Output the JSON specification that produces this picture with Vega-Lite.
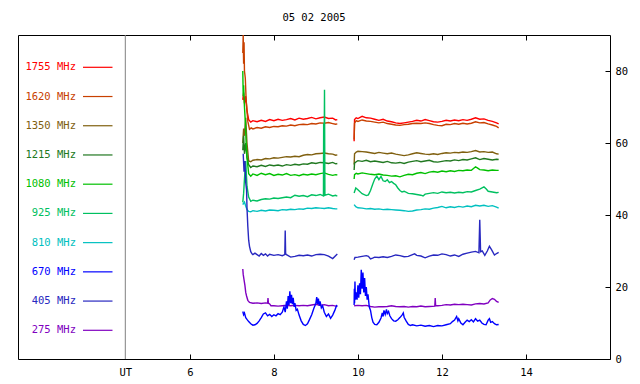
{
"$schema":"https://vega.github.io/schema/vega-lite/v6.json",
"autosize":{"type":"none"},
"padding":{"left":18,"top":35,"right":30,"bottom":25},
"width":592,"height":324,
"background":"white",
"title":{"text":"05 02 2005","font":"DejaVu Sans Mono","fontSize":10.5,"fontWeight":"normal","color":"#000","anchor":"middle","baseline":"alphabetic","offset":1},
"config":{"view":{"stroke":"#000","strokeWidth":1},"font":"DejaVu Sans Mono"},
"datasets":{
"one":[{"u":"UT"}],
"leg":[{"f":"1755","label":"1755 MHz"},{"f":"1620","label":"1620 MHz"},{"f":"1350","label":"1350 MHz"},{"f":"1215","label":"1215 MHz"},{"f":"1080","label":"1080 MHz"},{"f":"925","label":"925 MHz"},{"f":"810","label":"810 MHz"},{"f":"670","label":"670 MHz"},{"f":"405","label":"405 MHz"},{"f":"275","label":"275 MHz"}],
"rad":[
{"f":"1755","s":1,"t":7.26,"v":72},{"f":"1755","s":1,"t":7.28,"v":74},{"f":"1755","s":1,"t":7.30,"v":71},{"f":"1755","s":1,"t":7.33,"v":73},{"f":"1755","s":1,"t":7.36,"v":69},{"f":"1755","s":1,"t":7.40,"v":66.5},{"f":"1755","s":1,"t":7.45,"v":65.8},{"f":"1755","s":1,"t":7.5,"v":66.2},{"f":"1755","s":1,"t":7.6,"v":65.9},{"f":"1755","s":1,"t":7.7,"v":66.3},{"f":"1755","s":1,"t":7.8,"v":66.0},{"f":"1755","s":1,"t":7.9,"v":66.5},{"f":"1755","s":1,"t":8.0,"v":66.2},{"f":"1755","s":1,"t":8.1,"v":66.6},{"f":"1755","s":1,"t":8.2,"v":66.3},{"f":"1755","s":1,"t":8.3,"v":66.5},{"f":"1755","s":1,"t":8.4,"v":66.8},{"f":"1755","s":1,"t":8.5,"v":66.4},{"f":"1755","s":1,"t":8.6,"v":66.9},{"f":"1755","s":1,"t":8.7,"v":66.6},{"f":"1755","s":1,"t":8.8,"v":66.8},{"f":"1755","s":1,"t":8.9,"v":67.1},{"f":"1755","s":1,"t":9.0,"v":66.7},{"f":"1755","s":1,"t":9.1,"v":67.0},{"f":"1755","s":1,"t":9.2,"v":67.2},{"f":"1755","s":1,"t":9.3,"v":66.8},{"f":"1755","s":1,"t":9.4,"v":66.9},{"f":"1755","s":1,"t":9.47,"v":66.4},{"f":"1755","s":1,"t":9.51,"v":66.5},
{"f":"1755","s":2,"t":9.91,"v":60.5},{"f":"1755","s":2,"t":9.92,"v":66.5},{"f":"1755","s":2,"t":9.96,"v":67.0},{"f":"1755","s":2,"t":10.0,"v":66.8},{"f":"1755","s":2,"t":10.1,"v":67.4},{"f":"1755","s":2,"t":10.2,"v":67.0},{"f":"1755","s":2,"t":10.3,"v":66.9},{"f":"1755","s":2,"t":10.4,"v":66.6},{"f":"1755","s":2,"t":10.5,"v":66.3},{"f":"1755","s":2,"t":10.6,"v":66.6},{"f":"1755","s":2,"t":10.7,"v":66.1},{"f":"1755","s":2,"t":10.8,"v":65.9},{"f":"1755","s":2,"t":10.9,"v":65.6},{"f":"1755","s":2,"t":11.0,"v":65.4},{"f":"1755","s":2,"t":11.1,"v":65.6},{"f":"1755","s":2,"t":11.2,"v":65.8},{"f":"1755","s":2,"t":11.3,"v":66.0},{"f":"1755","s":2,"t":11.4,"v":66.3},{"f":"1755","s":2,"t":11.5,"v":66.1},{"f":"1755","s":2,"t":11.6,"v":66.5},{"f":"1755","s":2,"t":11.7,"v":66.2},{"f":"1755","s":2,"t":11.8,"v":65.9},{"f":"1755","s":2,"t":11.9,"v":65.8},{"f":"1755","s":2,"t":12.0,"v":66.0},{"f":"1755","s":2,"t":12.1,"v":66.3},{"f":"1755","s":2,"t":12.2,"v":66.1},{"f":"1755","s":2,"t":12.3,"v":66.4},{"f":"1755","s":2,"t":12.4,"v":66.2},{"f":"1755","s":2,"t":12.5,"v":66.5},{"f":"1755","s":2,"t":12.6,"v":66.3},{"f":"1755","s":2,"t":12.7,"v":66.6},{"f":"1755","s":2,"t":12.8,"v":67.0},{"f":"1755","s":2,"t":12.9,"v":66.6},{"f":"1755","s":2,"t":13.0,"v":66.7},{"f":"1755","s":2,"t":13.1,"v":66.3},{"f":"1755","s":2,"t":13.2,"v":66.0},{"f":"1755","s":2,"t":13.3,"v":65.6},{"f":"1755","s":2,"t":13.35,"v":65.3},
{"f":"1620","s":1,"t":7.26,"v":85},{"f":"1620","s":1,"t":7.27,"v":90},{"f":"1620","s":1,"t":7.28,"v":82},{"f":"1620","s":1,"t":7.29,"v":88},{"f":"1620","s":1,"t":7.30,"v":80},{"f":"1620","s":1,"t":7.32,"v":78},{"f":"1620","s":1,"t":7.34,"v":72},{"f":"1620","s":1,"t":7.36,"v":69},{"f":"1620","s":1,"t":7.38,"v":66},{"f":"1620","s":1,"t":7.42,"v":63.8},{"f":"1620","s":1,"t":7.46,"v":64.2},{"f":"1620","s":1,"t":7.5,"v":63.9},{"f":"1620","s":1,"t":7.6,"v":64.3},{"f":"1620","s":1,"t":7.7,"v":64.1},{"f":"1620","s":1,"t":7.8,"v":64.5},{"f":"1620","s":1,"t":7.9,"v":64.3},{"f":"1620","s":1,"t":8.0,"v":64.6},{"f":"1620","s":1,"t":8.1,"v":64.5},{"f":"1620","s":1,"t":8.2,"v":64.8},{"f":"1620","s":1,"t":8.3,"v":64.7},{"f":"1620","s":1,"t":8.4,"v":65.0},{"f":"1620","s":1,"t":8.5,"v":64.8},{"f":"1620","s":1,"t":8.6,"v":65.1},{"f":"1620","s":1,"t":8.7,"v":65.2},{"f":"1620","s":1,"t":8.8,"v":65.1},{"f":"1620","s":1,"t":8.9,"v":65.4},{"f":"1620","s":1,"t":9.0,"v":65.3},{"f":"1620","s":1,"t":9.1,"v":65.6},{"f":"1620","s":1,"t":9.2,"v":65.5},{"f":"1620","s":1,"t":9.3,"v":65.7},{"f":"1620","s":1,"t":9.4,"v":65.4},{"f":"1620","s":1,"t":9.47,"v":65.2},{"f":"1620","s":1,"t":9.51,"v":65.3},
{"f":"1620","s":2,"t":9.91,"v":61},{"f":"1620","s":2,"t":9.92,"v":65.5},{"f":"1620","s":2,"t":9.96,"v":66.2},{"f":"1620","s":2,"t":10.0,"v":66.0},{"f":"1620","s":2,"t":10.1,"v":66.4},{"f":"1620","s":2,"t":10.2,"v":66.1},{"f":"1620","s":2,"t":10.3,"v":66.0},{"f":"1620","s":2,"t":10.4,"v":65.8},{"f":"1620","s":2,"t":10.5,"v":65.6},{"f":"1620","s":2,"t":10.6,"v":65.8},{"f":"1620","s":2,"t":10.7,"v":65.4},{"f":"1620","s":2,"t":10.8,"v":65.2},{"f":"1620","s":2,"t":10.9,"v":65.0},{"f":"1620","s":2,"t":11.0,"v":64.9},{"f":"1620","s":2,"t":11.1,"v":65.1},{"f":"1620","s":2,"t":11.2,"v":65.2},{"f":"1620","s":2,"t":11.3,"v":65.4},{"f":"1620","s":2,"t":11.4,"v":65.5},{"f":"1620","s":2,"t":11.5,"v":65.4},{"f":"1620","s":2,"t":11.6,"v":65.6},{"f":"1620","s":2,"t":11.7,"v":65.4},{"f":"1620","s":2,"t":11.8,"v":65.1},{"f":"1620","s":2,"t":11.9,"v":64.9},{"f":"1620","s":2,"t":12.0,"v":64.8},{"f":"1620","s":2,"t":12.1,"v":65.2},{"f":"1620","s":2,"t":12.2,"v":65.1},{"f":"1620","s":2,"t":12.3,"v":65.4},{"f":"1620","s":2,"t":12.4,"v":65.2},{"f":"1620","s":2,"t":12.5,"v":65.5},{"f":"1620","s":2,"t":12.6,"v":65.3},{"f":"1620","s":2,"t":12.7,"v":65.5},{"f":"1620","s":2,"t":12.8,"v":65.9},{"f":"1620","s":2,"t":12.9,"v":65.6},{"f":"1620","s":2,"t":13.0,"v":65.7},{"f":"1620","s":2,"t":13.1,"v":65.3},{"f":"1620","s":2,"t":13.2,"v":65.0},{"f":"1620","s":2,"t":13.3,"v":64.6},{"f":"1620","s":2,"t":13.35,"v":64.2},
{"f":"1350","s":1,"t":7.26,"v":60},{"f":"1350","s":1,"t":7.28,"v":64},{"f":"1350","s":1,"t":7.30,"v":62},{"f":"1350","s":1,"t":7.33,"v":67},{"f":"1350","s":1,"t":7.36,"v":60},{"f":"1350","s":1,"t":7.40,"v":55},{"f":"1350","s":1,"t":7.45,"v":54.8},{"f":"1350","s":1,"t":7.5,"v":55.2},{"f":"1350","s":1,"t":7.6,"v":55.4},{"f":"1350","s":1,"t":7.7,"v":55.3},{"f":"1350","s":1,"t":7.8,"v":55.7},{"f":"1350","s":1,"t":7.9,"v":55.6},{"f":"1350","s":1,"t":8.0,"v":55.9},{"f":"1350","s":1,"t":8.1,"v":55.8},{"f":"1350","s":1,"t":8.2,"v":56.0},{"f":"1350","s":1,"t":8.3,"v":56.2},{"f":"1350","s":1,"t":8.4,"v":56.1},{"f":"1350","s":1,"t":8.5,"v":56.3},{"f":"1350","s":1,"t":8.6,"v":56.2},{"f":"1350","s":1,"t":8.7,"v":56.6},{"f":"1350","s":1,"t":8.8,"v":56.8},{"f":"1350","s":1,"t":8.9,"v":56.7},{"f":"1350","s":1,"t":9.0,"v":57.0},{"f":"1350","s":1,"t":9.1,"v":57.1},{"f":"1350","s":1,"t":9.2,"v":57.2},{"f":"1350","s":1,"t":9.3,"v":57.0},{"f":"1350","s":1,"t":9.4,"v":56.9},{"f":"1350","s":1,"t":9.47,"v":56.6},{"f":"1350","s":1,"t":9.51,"v":56.7},
{"f":"1350","s":2,"t":9.91,"v":54},{"f":"1350","s":2,"t":9.92,"v":57.0},{"f":"1350","s":2,"t":9.96,"v":57.5},{"f":"1350","s":2,"t":10.0,"v":57.7},{"f":"1350","s":2,"t":10.1,"v":57.6},{"f":"1350","s":2,"t":10.2,"v":57.5},{"f":"1350","s":2,"t":10.3,"v":57.3},{"f":"1350","s":2,"t":10.4,"v":57.1},{"f":"1350","s":2,"t":10.5,"v":57.4},{"f":"1350","s":2,"t":10.6,"v":57.2},{"f":"1350","s":2,"t":10.7,"v":57.0},{"f":"1350","s":2,"t":10.8,"v":57.2},{"f":"1350","s":2,"t":10.9,"v":56.9},{"f":"1350","s":2,"t":11.0,"v":56.7},{"f":"1350","s":2,"t":11.1,"v":56.5},{"f":"1350","s":2,"t":11.2,"v":56.7},{"f":"1350","s":2,"t":11.3,"v":57.0},{"f":"1350","s":2,"t":11.4,"v":57.3},{"f":"1350","s":2,"t":11.5,"v":57.1},{"f":"1350","s":2,"t":11.6,"v":56.9},{"f":"1350","s":2,"t":11.7,"v":56.8},{"f":"1350","s":2,"t":11.8,"v":57.0},{"f":"1350","s":2,"t":11.9,"v":56.8},{"f":"1350","s":2,"t":12.0,"v":57.1},{"f":"1350","s":2,"t":12.1,"v":57.3},{"f":"1350","s":2,"t":12.2,"v":57.2},{"f":"1350","s":2,"t":12.3,"v":57.4},{"f":"1350","s":2,"t":12.4,"v":57.3},{"f":"1350","s":2,"t":12.5,"v":57.5},{"f":"1350","s":2,"t":12.6,"v":57.4},{"f":"1350","s":2,"t":12.7,"v":57.6},{"f":"1350","s":2,"t":12.8,"v":57.9},{"f":"1350","s":2,"t":12.9,"v":57.5},{"f":"1350","s":2,"t":13.0,"v":57.6},{"f":"1350","s":2,"t":13.1,"v":57.4},{"f":"1350","s":2,"t":13.2,"v":57.5},{"f":"1350","s":2,"t":13.3,"v":57.0},{"f":"1350","s":2,"t":13.35,"v":56.9},
{"f":"1215","s":1,"t":7.26,"v":58},{"f":"1215","s":1,"t":7.28,"v":62},{"f":"1215","s":1,"t":7.30,"v":57},{"f":"1215","s":1,"t":7.33,"v":60},{"f":"1215","s":1,"t":7.36,"v":56},{"f":"1215","s":1,"t":7.40,"v":54},{"f":"1215","s":1,"t":7.45,"v":53.2},{"f":"1215","s":1,"t":7.5,"v":53.6},{"f":"1215","s":1,"t":7.6,"v":53.4},{"f":"1215","s":1,"t":7.7,"v":53.8},{"f":"1215","s":1,"t":7.8,"v":53.5},{"f":"1215","s":1,"t":7.9,"v":53.9},{"f":"1215","s":1,"t":8.0,"v":53.7},{"f":"1215","s":1,"t":8.1,"v":53.9},{"f":"1215","s":1,"t":8.2,"v":53.6},{"f":"1215","s":1,"t":8.3,"v":54.0},{"f":"1215","s":1,"t":8.4,"v":53.8},{"f":"1215","s":1,"t":8.5,"v":54.1},{"f":"1215","s":1,"t":8.6,"v":53.9},{"f":"1215","s":1,"t":8.7,"v":54.2},{"f":"1215","s":1,"t":8.8,"v":54.1},{"f":"1215","s":1,"t":8.9,"v":54.5},{"f":"1215","s":1,"t":9.0,"v":54.3},{"f":"1215","s":1,"t":9.1,"v":54.6},{"f":"1215","s":1,"t":9.2,"v":54.5},{"f":"1215","s":1,"t":9.3,"v":54.3},{"f":"1215","s":1,"t":9.4,"v":54.6},{"f":"1215","s":1,"t":9.47,"v":54.2},{"f":"1215","s":1,"t":9.51,"v":54.3},
{"f":"1215","s":2,"t":9.91,"v":52.5},{"f":"1215","s":2,"t":9.92,"v":54.4},{"f":"1215","s":2,"t":9.96,"v":54.8},{"f":"1215","s":2,"t":10.0,"v":55.1},{"f":"1215","s":2,"t":10.1,"v":54.9},{"f":"1215","s":2,"t":10.2,"v":55.2},{"f":"1215","s":2,"t":10.3,"v":54.8},{"f":"1215","s":2,"t":10.4,"v":55.0},{"f":"1215","s":2,"t":10.5,"v":54.8},{"f":"1215","s":2,"t":10.6,"v":54.6},{"f":"1215","s":2,"t":10.7,"v":54.9},{"f":"1215","s":2,"t":10.8,"v":54.5},{"f":"1215","s":2,"t":10.9,"v":54.4},{"f":"1215","s":2,"t":11.0,"v":54.6},{"f":"1215","s":2,"t":11.1,"v":54.3},{"f":"1215","s":2,"t":11.2,"v":54.7},{"f":"1215","s":2,"t":11.3,"v":54.9},{"f":"1215","s":2,"t":11.4,"v":55.1},{"f":"1215","s":2,"t":11.5,"v":54.8},{"f":"1215","s":2,"t":11.6,"v":55.0},{"f":"1215","s":2,"t":11.7,"v":55.2},{"f":"1215","s":2,"t":11.8,"v":54.8},{"f":"1215","s":2,"t":11.9,"v":54.7},{"f":"1215","s":2,"t":12.0,"v":54.9},{"f":"1215","s":2,"t":12.1,"v":55.1},{"f":"1215","s":2,"t":12.2,"v":55.0},{"f":"1215","s":2,"t":12.3,"v":55.3},{"f":"1215","s":2,"t":12.4,"v":55.1},{"f":"1215","s":2,"t":12.5,"v":55.4},{"f":"1215","s":2,"t":12.6,"v":55.3},{"f":"1215","s":2,"t":12.7,"v":55.6},{"f":"1215","s":2,"t":12.8,"v":55.9},{"f":"1215","s":2,"t":12.9,"v":55.4},{"f":"1215","s":2,"t":13.0,"v":55.7},{"f":"1215","s":2,"t":13.1,"v":55.5},{"f":"1215","s":2,"t":13.2,"v":55.3},{"f":"1215","s":2,"t":13.3,"v":55.5},{"f":"1215","s":2,"t":13.35,"v":55.4},
{"f":"1080","s":1,"t":7.26,"v":80},{"f":"1080","s":1,"t":7.27,"v":73},{"f":"1080","s":1,"t":7.28,"v":76},{"f":"1080","s":1,"t":7.30,"v":70},{"f":"1080","s":1,"t":7.32,"v":66},{"f":"1080","s":1,"t":7.34,"v":60},{"f":"1080","s":1,"t":7.36,"v":56},{"f":"1080","s":1,"t":7.40,"v":51.5},{"f":"1080","s":1,"t":7.45,"v":50.8},{"f":"1080","s":1,"t":7.5,"v":51.4},{"f":"1080","s":1,"t":7.6,"v":51.0},{"f":"1080","s":1,"t":7.7,"v":51.6},{"f":"1080","s":1,"t":7.8,"v":51.2},{"f":"1080","s":1,"t":7.9,"v":51.5},{"f":"1080","s":1,"t":8.0,"v":51.0},{"f":"1080","s":1,"t":8.1,"v":51.3},{"f":"1080","s":1,"t":8.2,"v":51.1},{"f":"1080","s":1,"t":8.3,"v":51.5},{"f":"1080","s":1,"t":8.4,"v":51.0},{"f":"1080","s":1,"t":8.5,"v":51.2},{"f":"1080","s":1,"t":8.6,"v":50.9},{"f":"1080","s":1,"t":8.7,"v":51.3},{"f":"1080","s":1,"t":8.8,"v":51.1},{"f":"1080","s":1,"t":8.9,"v":51.4},{"f":"1080","s":1,"t":9.0,"v":51.2},{"f":"1080","s":1,"t":9.1,"v":51.5},{"f":"1080","s":1,"t":9.2,"v":51.7},{"f":"1080","s":1,"t":9.3,"v":51.3},{"f":"1080","s":1,"t":9.4,"v":51.0},{"f":"1080","s":1,"t":9.47,"v":51.2},{"f":"1080","s":1,"t":9.51,"v":51.1},
{"f":"1080","s":2,"t":9.91,"v":50.0},{"f":"1080","s":2,"t":9.92,"v":51.2},{"f":"1080","s":2,"t":9.96,"v":51.6},{"f":"1080","s":2,"t":10.0,"v":51.4},{"f":"1080","s":2,"t":10.1,"v":51.7},{"f":"1080","s":2,"t":10.2,"v":51.5},{"f":"1080","s":2,"t":10.3,"v":51.3},{"f":"1080","s":2,"t":10.4,"v":51.2},{"f":"1080","s":2,"t":10.5,"v":51.4},{"f":"1080","s":2,"t":10.6,"v":51.1},{"f":"1080","s":2,"t":10.7,"v":51.0},{"f":"1080","s":2,"t":10.8,"v":50.8},{"f":"1080","s":2,"t":10.9,"v":50.9},{"f":"1080","s":2,"t":11.0,"v":50.6},{"f":"1080","s":2,"t":11.1,"v":51.0},{"f":"1080","s":2,"t":11.2,"v":51.3},{"f":"1080","s":2,"t":11.3,"v":51.2},{"f":"1080","s":2,"t":11.4,"v":51.6},{"f":"1080","s":2,"t":11.5,"v":51.8},{"f":"1080","s":2,"t":11.6,"v":51.5},{"f":"1080","s":2,"t":11.7,"v":51.9},{"f":"1080","s":2,"t":11.8,"v":52.1},{"f":"1080","s":2,"t":11.9,"v":51.9},{"f":"1080","s":2,"t":12.0,"v":52.2},{"f":"1080","s":2,"t":12.1,"v":52.0},{"f":"1080","s":2,"t":12.2,"v":52.3},{"f":"1080","s":2,"t":12.3,"v":52.1},{"f":"1080","s":2,"t":12.4,"v":52.4},{"f":"1080","s":2,"t":12.5,"v":52.3},{"f":"1080","s":2,"t":12.6,"v":52.5},{"f":"1080","s":2,"t":12.7,"v":52.4},{"f":"1080","s":2,"t":12.8,"v":53.4},{"f":"1080","s":2,"t":12.85,"v":53.0},{"f":"1080","s":2,"t":12.9,"v":52.6},{"f":"1080","s":2,"t":13.0,"v":52.5},{"f":"1080","s":2,"t":13.1,"v":52.3},{"f":"1080","s":2,"t":13.2,"v":52.5},{"f":"1080","s":2,"t":13.3,"v":52.4},{"f":"1080","s":2,"t":13.35,"v":52.4},
{"f":"925","s":1,"t":7.26,"v":43.5},{"f":"925","s":1,"t":7.28,"v":46},{"f":"925","s":1,"t":7.30,"v":50},{"f":"925","s":1,"t":7.33,"v":55},{"f":"925","s":1,"t":7.36,"v":48},{"f":"925","s":1,"t":7.40,"v":45},{"f":"925","s":1,"t":7.45,"v":43.8},{"f":"925","s":1,"t":7.5,"v":44.1},{"f":"925","s":1,"t":7.6,"v":43.9},{"f":"925","s":1,"t":7.7,"v":44.3},{"f":"925","s":1,"t":7.8,"v":44.5},{"f":"925","s":1,"t":7.9,"v":44.4},{"f":"925","s":1,"t":8.0,"v":44.7},{"f":"925","s":1,"t":8.1,"v":44.6},{"f":"925","s":1,"t":8.2,"v":44.8},{"f":"925","s":1,"t":8.3,"v":45.0},{"f":"925","s":1,"t":8.4,"v":44.8},{"f":"925","s":1,"t":8.5,"v":45.5},{"f":"925","s":1,"t":8.6,"v":45.2},{"f":"925","s":1,"t":8.7,"v":45.4},{"f":"925","s":1,"t":8.8,"v":45.1},{"f":"925","s":1,"t":8.9,"v":45.6},{"f":"925","s":1,"t":9.0,"v":45.4},{"f":"925","s":1,"t":9.1,"v":45.7},{"f":"925","s":1,"t":9.18,"v":45.3},{"f":"925","s":1,"t":9.185,"v":65.5},{"f":"925","s":1,"t":9.19,"v":45.3},{"f":"925","s":1,"t":9.205,"v":74.8},{"f":"925","s":1,"t":9.215,"v":45.5},{"f":"925","s":1,"t":9.3,"v":45.8},{"f":"925","s":1,"t":9.4,"v":45.3},{"f":"925","s":1,"t":9.47,"v":45.5},{"f":"925","s":1,"t":9.51,"v":45.2},
{"f":"925","s":2,"t":9.91,"v":46.1},{"f":"925","s":2,"t":9.95,"v":47.5},{"f":"925","s":2,"t":10.0,"v":47.0},{"f":"925","s":2,"t":10.1,"v":45.9},{"f":"925","s":2,"t":10.2,"v":45.4},{"f":"925","s":2,"t":10.25,"v":45.6},{"f":"925","s":2,"t":10.3,"v":46.8},{"f":"925","s":2,"t":10.35,"v":48.5},{"f":"925","s":2,"t":10.4,"v":50.0},{"f":"925","s":2,"t":10.45,"v":50.8},{"f":"925","s":2,"t":10.5,"v":49.8},{"f":"925","s":2,"t":10.55,"v":50.7},{"f":"925","s":2,"t":10.6,"v":49.5},{"f":"925","s":2,"t":10.65,"v":49.3},{"f":"925","s":2,"t":10.7,"v":49.8},{"f":"925","s":2,"t":10.75,"v":49.0},{"f":"925","s":2,"t":10.8,"v":49.3},{"f":"925","s":2,"t":10.85,"v":48.8},{"f":"925","s":2,"t":10.9,"v":48.4},{"f":"925","s":2,"t":10.95,"v":47.5},{"f":"925","s":2,"t":11.0,"v":46.8},{"f":"925","s":2,"t":11.05,"v":46.4},{"f":"925","s":2,"t":11.1,"v":46.6},{"f":"925","s":2,"t":11.2,"v":46.0},{"f":"925","s":2,"t":11.3,"v":45.9},{"f":"925","s":2,"t":11.4,"v":45.7},{"f":"925","s":2,"t":11.5,"v":45.5},{"f":"925","s":2,"t":11.55,"v":45.3},{"f":"925","s":2,"t":11.6,"v":45.8},{"f":"925","s":2,"t":11.7,"v":46.0},{"f":"925","s":2,"t":11.8,"v":46.2},{"f":"925","s":2,"t":11.9,"v":46.0},{"f":"925","s":2,"t":12.0,"v":46.4},{"f":"925","s":2,"t":12.1,"v":46.2},{"f":"925","s":2,"t":12.2,"v":46.3},{"f":"925","s":2,"t":12.3,"v":46.1},{"f":"925","s":2,"t":12.4,"v":46.3},{"f":"925","s":2,"t":12.5,"v":46.2},{"f":"925","s":2,"t":12.6,"v":46.5},{"f":"925","s":2,"t":12.7,"v":46.4},{"f":"925","s":2,"t":12.8,"v":46.8},{"f":"925","s":2,"t":12.9,"v":47.2},{"f":"925","s":2,"t":13.0,"v":47.8},{"f":"925","s":2,"t":13.05,"v":47.3},{"f":"925","s":2,"t":13.1,"v":46.6},{"f":"925","s":2,"t":13.2,"v":46.4},{"f":"925","s":2,"t":13.3,"v":46.2},{"f":"925","s":2,"t":13.35,"v":46.3},
{"f":"810","s":1,"t":7.26,"v":42.9},{"f":"810","s":1,"t":7.28,"v":43.3},{"f":"810","s":1,"t":7.30,"v":43.6},{"f":"810","s":1,"t":7.33,"v":42.5},{"f":"810","s":1,"t":7.36,"v":41.5},{"f":"810","s":1,"t":7.40,"v":41.0},{"f":"810","s":1,"t":7.45,"v":40.9},{"f":"810","s":1,"t":7.5,"v":41.2},{"f":"810","s":1,"t":7.6,"v":41.0},{"f":"810","s":1,"t":7.7,"v":41.3},{"f":"810","s":1,"t":7.8,"v":41.1},{"f":"810","s":1,"t":7.9,"v":41.4},{"f":"810","s":1,"t":8.0,"v":41.3},{"f":"810","s":1,"t":8.1,"v":41.2},{"f":"810","s":1,"t":8.2,"v":41.5},{"f":"810","s":1,"t":8.3,"v":41.4},{"f":"810","s":1,"t":8.4,"v":41.6},{"f":"810","s":1,"t":8.5,"v":41.5},{"f":"810","s":1,"t":8.6,"v":41.7},{"f":"810","s":1,"t":8.7,"v":41.6},{"f":"810","s":1,"t":8.8,"v":41.9},{"f":"810","s":1,"t":8.9,"v":41.8},{"f":"810","s":1,"t":9.0,"v":42.0},{"f":"810","s":1,"t":9.1,"v":41.9},{"f":"810","s":1,"t":9.2,"v":41.8},{"f":"810","s":1,"t":9.3,"v":42.0},{"f":"810","s":1,"t":9.4,"v":41.8},{"f":"810","s":1,"t":9.47,"v":41.7},{"f":"810","s":1,"t":9.51,"v":41.7},
{"f":"810","s":2,"t":9.91,"v":42.9},{"f":"810","s":2,"t":9.95,"v":42.3},{"f":"810","s":2,"t":10.0,"v":42.0},{"f":"810","s":2,"t":10.1,"v":41.9},{"f":"810","s":2,"t":10.2,"v":41.7},{"f":"810","s":2,"t":10.3,"v":41.8},{"f":"810","s":2,"t":10.4,"v":41.6},{"f":"810","s":2,"t":10.5,"v":41.7},{"f":"810","s":2,"t":10.6,"v":41.5},{"f":"810","s":2,"t":10.7,"v":41.6},{"f":"810","s":2,"t":10.8,"v":41.5},{"f":"810","s":2,"t":10.9,"v":41.4},{"f":"810","s":2,"t":11.0,"v":41.3},{"f":"810","s":2,"t":11.1,"v":41.2},{"f":"810","s":2,"t":11.2,"v":41.0},{"f":"810","s":2,"t":11.3,"v":41.1},{"f":"810","s":2,"t":11.4,"v":41.4},{"f":"810","s":2,"t":11.5,"v":41.5},{"f":"810","s":2,"t":11.6,"v":41.7},{"f":"810","s":2,"t":11.7,"v":41.6},{"f":"810","s":2,"t":11.8,"v":41.9},{"f":"810","s":2,"t":11.9,"v":42.1},{"f":"810","s":2,"t":12.0,"v":42.4},{"f":"810","s":2,"t":12.1,"v":42.0},{"f":"810","s":2,"t":12.2,"v":42.3},{"f":"810","s":2,"t":12.3,"v":42.1},{"f":"810","s":2,"t":12.4,"v":42.4},{"f":"810","s":2,"t":12.5,"v":42.2},{"f":"810","s":2,"t":12.6,"v":42.5},{"f":"810","s":2,"t":12.7,"v":42.3},{"f":"810","s":2,"t":12.8,"v":42.7},{"f":"810","s":2,"t":12.9,"v":42.5},{"f":"810","s":2,"t":13.0,"v":42.7},{"f":"810","s":2,"t":13.1,"v":42.4},{"f":"810","s":2,"t":13.2,"v":42.6},{"f":"810","s":2,"t":13.3,"v":42.2},{"f":"810","s":2,"t":13.35,"v":41.9},
{"f":"405","s":1,"t":7.27,"v":57},{"f":"405","s":1,"t":7.29,"v":52},{"f":"405","s":1,"t":7.31,"v":55},{"f":"405","s":1,"t":7.33,"v":49},{"f":"405","s":1,"t":7.35,"v":47},{"f":"405","s":1,"t":7.36,"v":42},{"f":"405","s":1,"t":7.38,"v":36.8},{"f":"405","s":1,"t":7.40,"v":33},{"f":"405","s":1,"t":7.42,"v":31.3},{"f":"405","s":1,"t":7.45,"v":29.8},{"f":"405","s":1,"t":7.48,"v":29.2},{"f":"405","s":1,"t":7.5,"v":29.0},{"f":"405","s":1,"t":7.55,"v":29.4},{"f":"405","s":1,"t":7.6,"v":29.0},{"f":"405","s":1,"t":7.65,"v":28.6},{"f":"405","s":1,"t":7.7,"v":29.3},{"f":"405","s":1,"t":7.75,"v":28.8},{"f":"405","s":1,"t":7.8,"v":29.2},{"f":"405","s":1,"t":7.85,"v":28.6},{"f":"405","s":1,"t":7.9,"v":29.1},{"f":"405","s":1,"t":8.0,"v":28.8},{"f":"405","s":1,"t":8.1,"v":29.0},{"f":"405","s":1,"t":8.2,"v":28.7},{"f":"405","s":1,"t":8.26,"v":29.0},{"f":"405","s":1,"t":8.27,"v":35.7},{"f":"405","s":1,"t":8.28,"v":29.2},{"f":"405","s":1,"t":8.3,"v":29.0},{"f":"405","s":1,"t":8.4,"v":28.3},{"f":"405","s":1,"t":8.5,"v":28.5},{"f":"405","s":1,"t":8.6,"v":28.8},{"f":"405","s":1,"t":8.7,"v":28.7},{"f":"405","s":1,"t":8.8,"v":28.9},{"f":"405","s":1,"t":8.9,"v":28.6},{"f":"405","s":1,"t":9.0,"v":29.0},{"f":"405","s":1,"t":9.1,"v":29.1},{"f":"405","s":1,"t":9.2,"v":29.0},{"f":"405","s":1,"t":9.3,"v":28.6},{"f":"405","s":1,"t":9.4,"v":27.9},{"f":"405","s":1,"t":9.45,"v":28.5},{"f":"405","s":1,"t":9.51,"v":29.2},
{"f":"405","s":2,"t":9.91,"v":27.6},{"f":"405","s":2,"t":9.93,"v":28.2},{"f":"405","s":2,"t":10.0,"v":28.3},{"f":"405","s":2,"t":10.1,"v":28.5},{"f":"405","s":2,"t":10.2,"v":28.7},{"f":"405","s":2,"t":10.25,"v":28.5},{"f":"405","s":2,"t":10.3,"v":27.8},{"f":"405","s":2,"t":10.35,"v":28.0},{"f":"405","s":2,"t":10.4,"v":28.3},{"f":"405","s":2,"t":10.5,"v":28.2},{"f":"405","s":2,"t":10.6,"v":28.4},{"f":"405","s":2,"t":10.7,"v":28.2},{"f":"405","s":2,"t":10.8,"v":28.5},{"f":"405","s":2,"t":10.9,"v":28.9},{"f":"405","s":2,"t":11.0,"v":28.7},{"f":"405","s":2,"t":11.1,"v":28.4},{"f":"405","s":2,"t":11.2,"v":28.5},{"f":"405","s":2,"t":11.3,"v":29.0},{"f":"405","s":2,"t":11.35,"v":29.2},{"f":"405","s":2,"t":11.4,"v":28.8},{"f":"405","s":2,"t":11.5,"v":28.6},{"f":"405","s":2,"t":11.6,"v":28.1},{"f":"405","s":2,"t":11.7,"v":28.6},{"f":"405","s":2,"t":11.8,"v":28.9},{"f":"405","s":2,"t":11.9,"v":28.8},{"f":"405","s":2,"t":12.0,"v":29.2},{"f":"405","s":2,"t":12.1,"v":29.0},{"f":"405","s":2,"t":12.2,"v":28.6},{"f":"405","s":2,"t":12.3,"v":28.9},{"f":"405","s":2,"t":12.4,"v":28.5},{"f":"405","s":2,"t":12.5,"v":29.1},{"f":"405","s":2,"t":12.6,"v":29.4},{"f":"405","s":2,"t":12.7,"v":29.7},{"f":"405","s":2,"t":12.8,"v":29.9},{"f":"405","s":2,"t":12.88,"v":29.5},{"f":"405","s":2,"t":12.9,"v":38.7},{"f":"405","s":2,"t":12.92,"v":29.8},{"f":"405","s":2,"t":12.96,"v":30.0},{"f":"405","s":2,"t":13.02,"v":28.8},{"f":"405","s":2,"t":13.08,"v":30.0},{"f":"405","s":2,"t":13.13,"v":31.3},{"f":"405","s":2,"t":13.18,"v":30.4},{"f":"405","s":2,"t":13.25,"v":28.9},{"f":"405","s":2,"t":13.3,"v":29.3},{"f":"405","s":2,"t":13.35,"v":29.6},
{"f":"275","s":1,"t":7.26,"v":25.0},{"f":"275","s":1,"t":7.27,"v":23.5},{"f":"275","s":1,"t":7.29,"v":22.0},{"f":"275","s":1,"t":7.31,"v":20.5},{"f":"275","s":1,"t":7.33,"v":18.5},{"f":"275","s":1,"t":7.35,"v":17.5},{"f":"275","s":1,"t":7.38,"v":16.3},{"f":"275","s":1,"t":7.42,"v":15.7},{"f":"275","s":1,"t":7.5,"v":15.5},{"f":"275","s":1,"t":7.6,"v":15.6},{"f":"275","s":1,"t":7.7,"v":15.4},{"f":"275","s":1,"t":7.8,"v":15.6},{"f":"275","s":1,"t":7.85,"v":15.5},{"f":"275","s":1,"t":7.86,"v":16.9},{"f":"275","s":1,"t":7.87,"v":15.5},{"f":"275","s":1,"t":7.9,"v":15.3},{"f":"275","s":1,"t":7.93,"v":14.8},{"f":"275","s":1,"t":8.0,"v":14.8},{"f":"275","s":1,"t":8.1,"v":14.7},{"f":"275","s":1,"t":8.2,"v":14.8},{"f":"275","s":1,"t":8.3,"v":14.9},{"f":"275","s":1,"t":8.4,"v":14.8},{"f":"275","s":1,"t":8.5,"v":14.9},{"f":"275","s":1,"t":8.6,"v":14.8},{"f":"275","s":1,"t":8.7,"v":14.9},{"f":"275","s":1,"t":8.8,"v":14.8},{"f":"275","s":1,"t":8.9,"v":15.0},{"f":"275","s":1,"t":9.0,"v":15.2},{"f":"275","s":1,"t":9.1,"v":14.9},{"f":"275","s":1,"t":9.2,"v":15.1},{"f":"275","s":1,"t":9.3,"v":14.8},{"f":"275","s":1,"t":9.4,"v":14.9},{"f":"275","s":1,"t":9.47,"v":14.7},{"f":"275","s":1,"t":9.51,"v":14.8},
{"f":"275","s":2,"t":9.91,"v":14.8},{"f":"275","s":2,"t":10.0,"v":14.9},{"f":"275","s":2,"t":10.1,"v":14.8},{"f":"275","s":2,"t":10.2,"v":14.9},{"f":"275","s":2,"t":10.3,"v":14.6},{"f":"275","s":2,"t":10.4,"v":14.4},{"f":"275","s":2,"t":10.5,"v":14.5},{"f":"275","s":2,"t":10.6,"v":14.5},{"f":"275","s":2,"t":10.7,"v":14.6},{"f":"275","s":2,"t":10.8,"v":14.8},{"f":"275","s":2,"t":10.9,"v":14.6},{"f":"275","s":2,"t":11.0,"v":14.5},{"f":"275","s":2,"t":11.1,"v":14.6},{"f":"275","s":2,"t":11.2,"v":14.4},{"f":"275","s":2,"t":11.3,"v":14.6},{"f":"275","s":2,"t":11.4,"v":14.5},{"f":"275","s":2,"t":11.5,"v":14.7},{"f":"275","s":2,"t":11.6,"v":14.5},{"f":"275","s":2,"t":11.7,"v":14.6},{"f":"275","s":2,"t":11.83,"v":14.7},{"f":"275","s":2,"t":11.84,"v":16.9},{"f":"275","s":2,"t":11.85,"v":14.8},{"f":"275","s":2,"t":11.9,"v":14.8},{"f":"275","s":2,"t":12.0,"v":14.9},{"f":"275","s":2,"t":12.1,"v":15.1},{"f":"275","s":2,"t":12.2,"v":15.0},{"f":"275","s":2,"t":12.3,"v":15.2},{"f":"275","s":2,"t":12.4,"v":15.1},{"f":"275","s":2,"t":12.5,"v":15.2},{"f":"275","s":2,"t":12.6,"v":15.1},{"f":"275","s":2,"t":12.7,"v":15.0},{"f":"275","s":2,"t":12.8,"v":15.3},{"f":"275","s":2,"t":12.9,"v":15.4},{"f":"275","s":2,"t":13.0,"v":15.3},{"f":"275","s":2,"t":13.1,"v":15.6},{"f":"275","s":2,"t":13.15,"v":16.4},{"f":"275","s":2,"t":13.2,"v":16.8},{"f":"275","s":2,"t":13.25,"v":16.6},{"f":"275","s":2,"t":13.3,"v":16.0},{"f":"275","s":2,"t":13.35,"v":15.7},
{"f":"670","s":1,"t":7.26,"v":13.2},{"f":"670","s":1,"t":7.28,"v":12.3},{"f":"670","s":1,"t":7.30,"v":12.8},{"f":"670","s":1,"t":7.33,"v":11.5},{"f":"670","s":1,"t":7.36,"v":11.0},{"f":"670","s":1,"t":7.40,"v":10.4},{"f":"670","s":1,"t":7.45,"v":9.8},{"f":"670","s":1,"t":7.5,"v":9.4},{"f":"670","s":1,"t":7.55,"v":9.5},{"f":"670","s":1,"t":7.6,"v":9.9},{"f":"670","s":1,"t":7.65,"v":10.6},{"f":"670","s":1,"t":7.7,"v":11.5},{"f":"670","s":1,"t":7.75,"v":12.5},{"f":"670","s":1,"t":7.8,"v":12.8},{"f":"670","s":1,"t":7.85,"v":12.0},{"f":"670","s":1,"t":7.9,"v":12.4},{"f":"670","s":1,"t":7.95,"v":11.8},{"f":"670","s":1,"t":8.0,"v":12.3},{"f":"670","s":1,"t":8.05,"v":12.0},{"f":"670","s":1,"t":8.1,"v":12.6},{"f":"670","s":1,"t":8.15,"v":12.3},{"f":"670","s":1,"t":8.2,"v":13.0},{"f":"670","s":1,"t":8.24,"v":14.5},{"f":"670","s":1,"t":8.27,"v":13.0},{"f":"670","s":1,"t":8.30,"v":16.0},{"f":"670","s":1,"t":8.32,"v":14.0},{"f":"670","s":1,"t":8.34,"v":17.5},{"f":"670","s":1,"t":8.36,"v":15.0},{"f":"670","s":1,"t":8.38,"v":18.8},{"f":"670","s":1,"t":8.40,"v":15.5},{"f":"670","s":1,"t":8.42,"v":17.8},{"f":"670","s":1,"t":8.44,"v":15.2},{"f":"670","s":1,"t":8.46,"v":17.0},{"f":"670","s":1,"t":8.48,"v":14.5},{"f":"670","s":1,"t":8.5,"v":15.5},{"f":"670","s":1,"t":8.53,"v":13.5},{"f":"670","s":1,"t":8.56,"v":13.8},{"f":"670","s":1,"t":8.6,"v":12.2},{"f":"670","s":1,"t":8.65,"v":10.6},{"f":"670","s":1,"t":8.7,"v":9.6},{"f":"670","s":1,"t":8.75,"v":9.3},{"f":"670","s":1,"t":8.8,"v":9.8},{"f":"670","s":1,"t":8.85,"v":11.0},{"f":"670","s":1,"t":8.9,"v":12.3},{"f":"670","s":1,"t":8.95,"v":14.0},{"f":"670","s":1,"t":9.0,"v":15.5},{"f":"670","s":1,"t":9.02,"v":17.2},{"f":"670","s":1,"t":9.04,"v":15.3},{"f":"670","s":1,"t":9.06,"v":16.8},{"f":"670","s":1,"t":9.08,"v":14.8},{"f":"670","s":1,"t":9.1,"v":16.0},{"f":"670","s":1,"t":9.13,"v":14.2},{"f":"670","s":1,"t":9.16,"v":14.8},{"f":"670","s":1,"t":9.2,"v":13.0},{"f":"670","s":1,"t":9.25,"v":11.8},{"f":"670","s":1,"t":9.3,"v":12.5},{"f":"670","s":1,"t":9.35,"v":11.3},{"f":"670","s":1,"t":9.4,"v":12.2},{"f":"670","s":1,"t":9.45,"v":13.5},{"f":"670","s":1,"t":9.49,"v":14.8},{"f":"670","s":1,"t":9.51,"v":14.6},
{"f":"670","s":2,"t":9.91,"v":15.0},{"f":"670","s":2,"t":9.915,"v":19.5},{"f":"670","s":2,"t":9.92,"v":15.5},{"f":"670","s":2,"t":9.93,"v":21.5},{"f":"670","s":2,"t":9.94,"v":16.5},{"f":"670","s":2,"t":9.96,"v":18.5},{"f":"670","s":2,"t":9.98,"v":16.5},{"f":"670","s":2,"t":10.0,"v":20.5},{"f":"670","s":2,"t":10.02,"v":17.0},{"f":"670","s":2,"t":10.04,"v":21.0},{"f":"670","s":2,"t":10.06,"v":18.0},{"f":"670","s":2,"t":10.08,"v":24.8},{"f":"670","s":2,"t":10.10,"v":19.5},{"f":"670","s":2,"t":10.12,"v":24.0},{"f":"670","s":2,"t":10.14,"v":18.5},{"f":"670","s":2,"t":10.16,"v":22.5},{"f":"670","s":2,"t":10.18,"v":17.5},{"f":"670","s":2,"t":10.2,"v":20.0},{"f":"670","s":2,"t":10.22,"v":16.5},{"f":"670","s":2,"t":10.24,"v":18.0},{"f":"670","s":2,"t":10.27,"v":14.5},{"f":"670","s":2,"t":10.3,"v":13.5},{"f":"670","s":2,"t":10.33,"v":11.5},{"f":"670","s":2,"t":10.36,"v":10.2},{"f":"670","s":2,"t":10.4,"v":9.6},{"f":"670","s":2,"t":10.45,"v":9.5},{"f":"670","s":2,"t":10.5,"v":10.2},{"f":"670","s":2,"t":10.55,"v":11.4},{"f":"670","s":2,"t":10.58,"v":12.8},{"f":"670","s":2,"t":10.6,"v":11.8},{"f":"670","s":2,"t":10.62,"v":13.5},{"f":"670","s":2,"t":10.65,"v":12.4},{"f":"670","s":2,"t":10.68,"v":13.8},{"f":"670","s":2,"t":10.7,"v":12.6},{"f":"670","s":2,"t":10.73,"v":13.2},{"f":"670","s":2,"t":10.76,"v":12.0},{"f":"670","s":2,"t":10.8,"v":11.2},{"f":"670","s":2,"t":10.85,"v":10.6},{"f":"670","s":2,"t":10.9,"v":10.5},{"f":"670","s":2,"t":10.95,"v":10.9},{"f":"670","s":2,"t":11.0,"v":11.5},{"f":"670","s":2,"t":11.05,"v":12.2},{"f":"670","s":2,"t":11.08,"v":12.8},{"f":"670","s":2,"t":11.1,"v":11.6},{"f":"670","s":2,"t":11.15,"v":10.5},{"f":"670","s":2,"t":11.2,"v":9.6},{"f":"670","s":2,"t":11.25,"v":9.3},{"f":"670","s":2,"t":11.3,"v":9.5},{"f":"670","s":2,"t":11.4,"v":9.2},{"f":"670","s":2,"t":11.5,"v":9.4},{"f":"670","s":2,"t":11.6,"v":9.1},{"f":"670","s":2,"t":11.7,"v":9.3},{"f":"670","s":2,"t":11.8,"v":9.0},{"f":"670","s":2,"t":11.9,"v":9.3},{"f":"670","s":2,"t":12.0,"v":9.2},{"f":"670","s":2,"t":12.1,"v":9.5},{"f":"670","s":2,"t":12.2,"v":9.8},{"f":"670","s":2,"t":12.25,"v":10.4},{"f":"670","s":2,"t":12.3,"v":10.8},{"f":"670","s":2,"t":12.35,"v":11.8},{"f":"670","s":2,"t":12.38,"v":10.6},{"f":"670","s":2,"t":12.4,"v":11.2},{"f":"670","s":2,"t":12.45,"v":10.0},{"f":"670","s":2,"t":12.5,"v":9.5},{"f":"670","s":2,"t":12.55,"v":10.2},{"f":"670","s":2,"t":12.6,"v":10.8},{"f":"670","s":2,"t":12.65,"v":10.4},{"f":"670","s":2,"t":12.7,"v":10.9},{"f":"670","s":2,"t":12.75,"v":10.3},{"f":"670","s":2,"t":12.8,"v":11.2},{"f":"670","s":2,"t":12.85,"v":10.5},{"f":"670","s":2,"t":12.9,"v":10.8},{"f":"670","s":2,"t":12.95,"v":10.0},{"f":"670","s":2,"t":13.0,"v":9.6},{"f":"670","s":2,"t":13.05,"v":9.5},{"f":"670","s":2,"t":13.1,"v":10.8},{"f":"670","s":2,"t":13.13,"v":11.2},{"f":"670","s":2,"t":13.16,"v":10.2},{"f":"670","s":2,"t":13.2,"v":10.4},{"f":"670","s":2,"t":13.25,"v":9.8},{"f":"670","s":2,"t":13.3,"v":9.5},{"f":"670","s":2,"t":13.35,"v":9.6}
]},
"layer":[
{"data":{"name":"one"},
 "mark":{"type":"rule","color":"#808080","strokeWidth":1},
 "encoding":{"x":{"datum":4.464,"type":"quantitative","scale":{"domain":[1.91,16],"nice":false,"zero":false},
   "axis":{"orient":"top","values":[6,8,10,12,14],"labels":false,"offset":-5,"tickSize":5,"tickWidth":1,"tickColor":"#000","domain":false,"grid":false,"title":null}}}},
{"data":{"name":"rad"},
 "mark":{"type":"line","strokeWidth":1.4,"interpolate":"linear"},
 "encoding":{
  "x":{"field":"t","type":"quantitative","scale":{"domain":[1.91,16],"nice":false,"zero":false},
   "axis":{"orient":"bottom","values":[4.464,6,8,10,12,14],"labelExpr":"datum.value < 5 ? 'UT' : datum.label","offset":-5,"tickSize":5,"tickWidth":1,"labelPadding":8,"domain":false,"grid":false,"title":null,"labelFont":"DejaVu Sans Mono","labelFontSize":10.5,"labelColor":"#000","labelFlush":false,"labelOverlap":false,"tickColor":{"condition":{"test":"datum.value < 5","value":"transparent"},"value":"#000"}}},
  "y":{"field":"v","type":"quantitative","scale":{"domain":[0,90],"nice":false,"zero":false},
   "axis":{"orient":"right","values":[0,20,40,60,80],"offset":-5,"tickSize":5,"tickWidth":1,"tickColor":"#000","labelPadding":5,"domain":false,"grid":false,"title":null,"labelFont":"DejaVu Sans Mono","labelFontSize":10.5,"labelColor":"#000","labelFlush":false,"labelOverlap":false,"labelBaseline":"middle"}},
  "color":{"field":"f","type":"nominal","scale":{"domain":["1755","1620","1350","1215","1080","925","810","670","405","275"],"range":["#ff0000","#c84000","#806010","#207820","#00c000","#00c060","#00c0c0","#0000ff","#2828c0","#8000c0"]},"legend":null},
  "detail":{"field":"s","type":"nominal"}}},
{"data":{"name":"leg"},
 "mark":{"type":"text","align":"right","baseline":"middle","font":"DejaVu Sans Mono","fontSize":10.5},
 "encoding":{
  "x":{"datum":3.29,"type":"quantitative","axis":null},
  "y":{"field":"f","type":"nominal","scale":{"type":"point","padding":0,"domain":["1755","1620","1350","1215","1080","925","810","670","405","275"],"range":[32.3,295.3]},"axis":null},
  "text":{"field":"label"},
  "color":{"field":"f","type":"nominal","legend":null}}},
{"data":{"name":"leg"},
 "mark":{"type":"rule","strokeWidth":1.2},
 "encoding":{
  "x":{"datum":3.457,"type":"quantitative","axis":null},
  "x2":{"datum":4.159},
  "y":{"field":"f","type":"nominal","scale":{"type":"point","padding":0,"domain":["1755","1620","1350","1215","1080","925","810","670","405","275"],"range":[32.3,295.3]},"axis":null},
  "color":{"field":"f","type":"nominal","legend":null}}}
],
"resolve":{"scale":{"y":"independent"},"axis":{"x":"independent","y":"independent"}}
}
